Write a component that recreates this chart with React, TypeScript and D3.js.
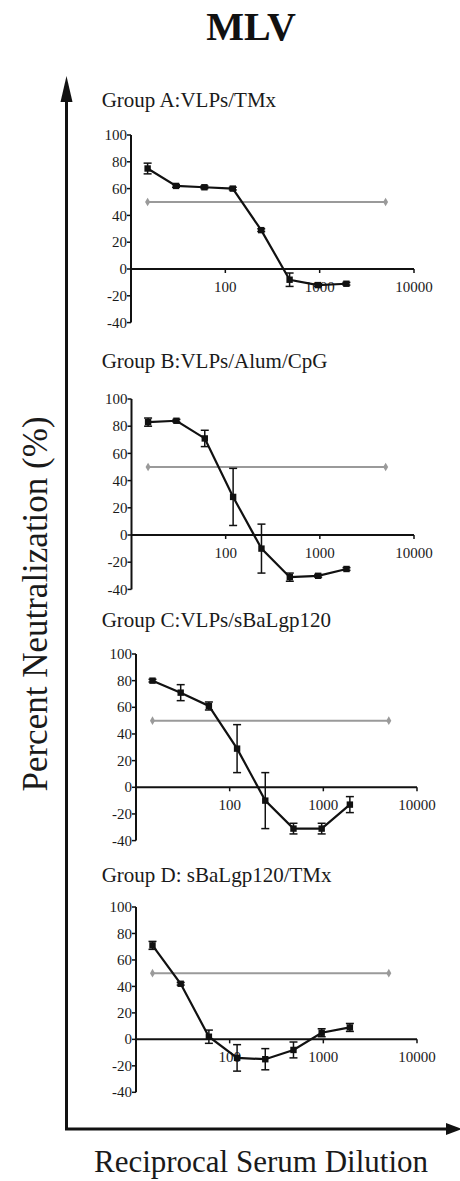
import React from 'react';
import * as d3 from 'd3';

// reciprocal serum dilutions (x values)
const dilutions = [15, 30, 60, 120, 240, 480, 960, 1920];

// percent neutralization per group, with error bar half-widths
const groupA = [75, 62, 61, 60, 29, -8, -12, -11];
const errA = [4, 1, 1, 1, 1, 5, 1, 1];
const groupB = [83, 84, 71, 28, -10, -31, -30, -25];
const errB = [3, 1, 6, 21, 18, 3, 1, 1];
const groupC = [80, 71, 61, 29, -10, -31, -31, -13];
const errC = [1, 6, 3, 18, 21, 4, 4, 6];
const groupD = [71, 42, 2, -14, -15, -8, 5, 9];
const errD = [3, 1, 5, 10, 8, 6, 3, 3];

const titles = ['Group A:VLPs/TMx', 'Group B:VLPs/Alum/CpG', 'Group C:VLPs/sBaLgp120', 'Group D: sBaLgp120/TMx'];

const yTicks = [100, 80, 60, 40, 20, 0, -20, -40];
const xTicks = [100, 1000, 10000];
const cutoff = 50; // 50% neutralization reference
const cutoffRange = [15, 5000];

const FONT = 'Liberation Serif, Times New Roman, Times, serif';

// panel placement on the page
const panels = [
  { values: groupA, errors: errA, titleY: 107, top: 135, bottom: 322.6, left: 131, right: 414 },
  { values: groupB, errors: errB, titleY: 368, top: 399, bottom: 589.4, left: 131.5, right: 414 },
  { values: groupC, errors: errC, titleY: 627, top: 654, bottom: 840.6, left: 136, right: 417 },
  { values: groupD, errors: errD, titleY: 882, top: 907, bottom: 1092.3, left: 136, right: 417 },
];

function Panel({ p, title }) {
  const x = d3.scaleLog().domain([10, 10000]).range([p.left, p.right]);
  const y = d3.scaleLinear().domain([-40, 100]).range([p.bottom, p.top]);
  const y0 = y(0);

  const line = d3.line<number>()
    .x((d, i) => x(dilutions[i]))
    .y((d) => y(d));

  const capW = 4;

  return (
    <g>
      <text x={101.7} y={p.titleY} fontSize={21} fill="#1a1a1a">{title}</text>

      {/* y axis */}
      <line x1={x(10)} x2={x(10)} y1={y(100)} y2={y(-40)} stroke="#111" strokeWidth={2} />
      {yTicks.map((t) => (
        <g key={t}>
          <line x1={x(10) - 4} x2={x(10)} y1={y(t)} y2={y(t)} stroke="#111" strokeWidth={1.5} />
          <text x={x(10) - 4} y={y(t)} dy="0.34em" textAnchor="end" fontSize={15} fill="#1a1a1a">{t}</text>
        </g>
      ))}

      {/* x axis at zero */}
      <line x1={x(10)} x2={x(10000)} y1={y0} y2={y0} stroke="#111" strokeWidth={2} />
      {xTicks.map((t) => (
        <g key={t}>
          <line x1={x(t)} x2={x(t)} y1={y0} y2={y0 + 4} stroke="#111" strokeWidth={1.5} />
          <text x={x(t)} y={y0 + 23} textAnchor="middle" fontSize={15} fill="#1a1a1a">{t}</text>
        </g>
      ))}

      {/* 50% reference line */}
      <line x1={x(cutoffRange[0])} x2={x(cutoffRange[1])} y1={y(cutoff)} y2={y(cutoff)} stroke="#9a9a9a" strokeWidth={2} />
      {cutoffRange.map((c) => (
        <path key={c} d={d3.symbol().type(d3.symbolDiamond).size(22)()} transform={`translate(${x(c)},${y(cutoff)})`} fill="#9a9a9a" />
      ))}

      {/* error bars */}
      {p.values.map((v, i) => {
        const cx = x(dilutions[i]);
        const e = p.errors[i];
        return (
          <g key={i} stroke="#111" strokeWidth={1.5}>
            <line x1={cx} x2={cx} y1={y(v + e)} y2={y(v - e)} />
            <line x1={cx - capW} x2={cx + capW} y1={y(v + e)} y2={y(v + e)} />
            <line x1={cx - capW} x2={cx + capW} y1={y(v - e)} y2={y(v - e)} />
          </g>
        );
      })}

      <path d={line(p.values)} fill="none" stroke="#111" strokeWidth={2.2} />

      {p.values.map((v, i) => (
        <rect key={i} x={x(dilutions[i]) - 3.2} y={y(v) - 3.2} width={6.4} height={6.4} fill="#111" />
      ))}
    </g>
  );
}

export default function App() {
  const axisX = 66.5;
  const axisTop = 76;
  const axisY = 1129;
  return (
    <svg width={460} height={1181} style={{ position: 'absolute', left: 0, top: 0, background: '#fff', fontFamily: FONT }}>
      <text x={251} y={40} textAnchor="middle" fontSize={40} fontWeight="bold" fill="#111">MLV</text>

      {/* outer axes with arrows */}
      <line x1={axisX} x2={axisX} y1={axisTop + 20} y2={axisY} stroke="#111" strokeWidth={3} />
      <path d={`M${axisX},${axisTop} L${axisX - 6},${axisTop + 26} L${axisX + 6},${axisTop + 26} Z`} fill="#111" />
      <line x1={axisX - 1.5} x2={448} y1={axisY} y2={axisY} stroke="#111" strokeWidth={3} />
      <path d={`M462,${axisY} L446,${axisY - 6} L446,${axisY + 6} Z`} fill="#111" />

      <text transform={`translate(47,604) rotate(-90)`} textAnchor="middle" fontSize={35} fill="#1a1a1a">Percent Neutralization (%)</text>
      <text x={261} y={1172} textAnchor="middle" fontSize={31} fill="#1a1a1a">Reciprocal Serum Dilution</text>

      {panels.map((p, i) => (
        <Panel key={i} p={p} title={titles[i]} />
      ))}
    </svg>
  );
}
